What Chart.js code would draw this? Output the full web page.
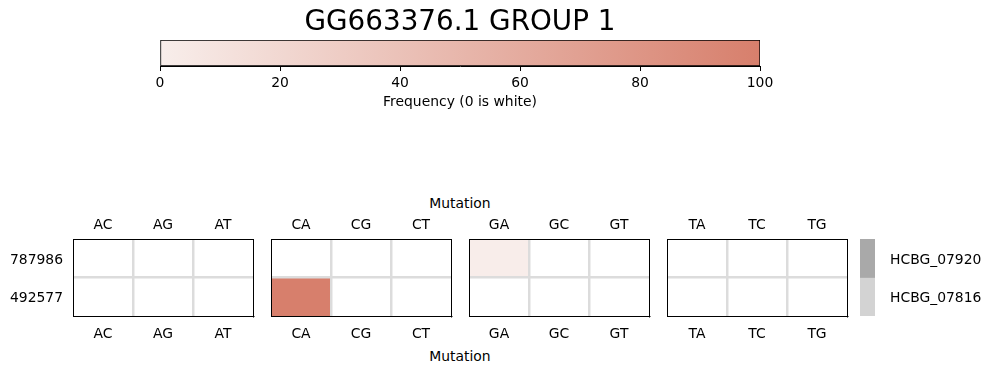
<!DOCTYPE html>
<html>
<head>
<meta charset="utf-8">
<script src="https://cdn.jsdelivr.net/npm/chart.js@4.4.1/dist/chart.umd.min.js"></script>
<style>
  html, body { margin: 0; padding: 0; background: #fff; }
  #wrap { position: relative; width: 991px; height: 373px; overflow: hidden; }
  #wrap canvas { position: absolute; }
  .axis-title {
    position: absolute; font: 13.9px 'DejaVu Sans', sans-serif; color: #000;
    transform: translate(-50%, -50%); white-space: nowrap;
  }
</style>
</head>
<body>
<div id="wrap">
  <canvas id="cbar" width="660" height="112" style="left:130px;top:0"></canvas>
  <div class="axis-title" style="left:460px;top:203px">Mutation</div>
  <div class="axis-title" style="left:460px;top:356px">Mutation</div>
</div>
<script>
// ── data ──
const TITLE = 'GG663376.1 GROUP 1';
const ROWS = ['787986', '492577'];
const MUTATION_GROUPS = [
  ['AC', 'AG', 'AT'],
  ['CA', 'CG', 'CT'],
  ['GA', 'GC', 'GT'],
  ['TA', 'TC', 'TG'],
];
// frequency per mutation, one array per row (12 mutations, group order)
const FREQ_787986 = [0, 0, 0, 0, 0, 0, 1, 0, 0, 0, 0, 0];
const FREQ_492577 = [0, 0, 0, 100, 0, 0, 0, 0, 0, 0, 0, 0];
const GENES = ['HCBG_07920', 'HCBG_07816'];
const CBAR_MIN = 0, CBAR_MAX = 100, CBAR_STEP = 20;

// ── style / layout ──
const C0 = [248, 238, 235], C1 = [215, 127, 108];
const GRID = '#dcdcdc';
const GENE_COLORS = ['#a9a9a9', '#d3d3d3'];
const PANEL_LEFTS = [73, 271, 469, 667];
const PANEL_W = 180, PANEL_H = 77, PANEL_TOP = 239;
const TOP_H = 50, BOT_H = 40;
const NONE = 'rgba(0,0,0,0)';

Chart.defaults.font.family = "'DejaVu Sans', sans-serif";
Chart.defaults.font.size = 13.9;
Chart.defaults.color = '#000';

function freqColor(v) {
  if (!v) return '#ffffff';
  const t = v / CBAR_MAX;
  return 'rgb(' + C0.map((c, i) => Math.round(c + (C1[i] - c) * t)).join(',') + ')';
}

const wrap = document.getElementById('wrap');

// hidden horizontal axis that only reserves space
function spacer(pos, h) {
  return {
    type: 'category', position: pos, display: true,
    ticks: { display: false }, grid: { display: false, drawTicks: false },
    border: { display: false },
    afterFit: s => { s.height = h; }
  };
}

/* ═══ COLORBAR + TITLE ═══ */
new Chart(document.getElementById('cbar'), {
  type: 'bar',
  data: {
    labels: ['freq'],
    datasets: [{
      data: [[CBAR_MIN, CBAR_MAX]],
      backgroundColor: ctx => {
        const area = ctx.chart.chartArea;
        if (!area) return freqColor(50);
        const g = ctx.chart.ctx.createLinearGradient(area.left, 0, area.right, 0);
        g.addColorStop(0, `rgb(${C0.join(',')})`);
        g.addColorStop(1, `rgb(${C1.join(',')})`);
        return g;
      },
      borderColor: '#000',
      borderWidth: 1,
      borderSkipped: false,
      barPercentage: 1,
      categoryPercentage: 1,
    }]
  },
  options: {
    indexAxis: 'y',
    responsive: false,
    animation: false,
    layout: { padding: { left: 30, right: 30 } },
    plugins: {
      legend: { display: false },
      tooltip: { enabled: false },
      title: { display: true, text: TITLE, font: { size: 27.8, weight: 'normal' }, padding: { top: 6.5, bottom: 0.14 }, color: '#000' }
    },
    scales: {
      x: {
        min: CBAR_MIN, max: CBAR_MAX,
        ticks: { stepSize: CBAR_STEP, padding: 4 },
        grid: { drawOnChartArea: false, drawTicks: true, tickLength: 5, color: '#000' },
        border: { color: '#000' },
        title: { display: true, text: 'Frequency (0 is white)', padding: { top: 0, bottom: 1 } },
        afterFit: s => { s.height = 46; }
      },
      y: { display: false }
    }
  }
});

/* ═══ HEATMAP PANELS ═══ */
function makePanel(gi) {
  const cols = MUTATION_GROUPS[gi];
  const first = gi === 0;
  const leftW = first ? PANEL_LEFTS[0] : 3;
  const cv = document.createElement('canvas');
  cv.width = leftW + PANEL_W + 3;
  cv.height = TOP_H + PANEL_H + BOT_H;
  cv.style.left = (PANEL_LEFTS[gi] - leftW) + 'px';
  cv.style.top = (PANEL_TOP - TOP_H) + 'px';
  wrap.appendChild(cv);

  const topVals = FREQ_787986.slice(gi * 3, gi * 3 + 3);
  const botVals = FREQ_492577.slice(gi * 3, gi * 3 + 3);
  const border = { color: '#000', width: 1, z: 2 };

  new Chart(cv, {
    type: 'bar',
    data: {
      labels: cols,
      datasets: [
        { label: ROWS[0], data: cols.map(() => [1, 2]), backgroundColor: topVals.map(freqColor) },
        { label: ROWS[1], data: cols.map(() => [0, 1]), backgroundColor: botVals.map(freqColor) },
      ]
    },
    options: {
      responsive: false,
      animation: false,
      layout: { padding: 0 },
      plugins: { legend: { display: false }, tooltip: { enabled: false } },
      datasets: { bar: { grouped: false, barPercentage: 1, categoryPercentage: 1, borderWidth: 0, inflateAmount: 0 } },
      scales: {
        x: {
          position: 'bottom', offset: true,
          grid: { offset: true, z: 1, lineWidth: 2.5, drawTicks: false,
                  color: c => (c.index === 1 || c.index === 2) ? GRID : NONE },
          border: border,
          ticks: { padding: 10 },
          afterFit: s => { s.height = BOT_H; }
        },
        x2: {
          type: 'category', position: 'top', offset: true,
          grid: { display: false, drawTicks: false },
          border: border,
          ticks: { padding: 5 },
          afterFit: s => { s.height = TOP_H; }
        },
        y: {
          type: 'linear', position: 'left', min: 0, max: 2,
          afterBuildTicks: s => { s.ticks = [{ value: 0.5 }, { value: 1.5 }]; },
          ticks: { display: first, padding: 10, labelOffset: 2, callback: v => v > 1 ? ROWS[0] : ROWS[1] },
          grid: { display: false, drawTicks: false },
          border: border,
          afterFit: s => { s.width = leftW; }
        },
        y2: {
          type: 'linear', position: 'right', min: 0, max: 2,
          ticks: { display: false, stepSize: 1 },
          grid: { z: 1, lineWidth: 2.5, drawTicks: false,
                  color: c => (c.tick && c.tick.value === 1) ? GRID : NONE },
          border: border,
          afterFit: s => { s.width = 3; }
        }
      }
    }
  });
}
MUTATION_GROUPS.forEach((g, i) => makePanel(i));

/* ═══ GENE BAR ═══ */
(function makeGeneBar() {
  const cv = document.createElement('canvas');
  cv.width = 131;
  cv.height = TOP_H + PANEL_H + BOT_H;
  cv.style.left = '860px';
  cv.style.top = (PANEL_TOP - TOP_H) + 'px';
  wrap.appendChild(cv);
  new Chart(cv, {
    type: 'bar',
    data: {
      labels: ['gene'],
      datasets: [
        { label: GENES[0], data: [[1, 2]], backgroundColor: GENE_COLORS[0] },
        { label: GENES[1], data: [[0, 1]], backgroundColor: GENE_COLORS[1] },
      ]
    },
    options: {
      responsive: false,
      animation: false,
      layout: { padding: 0 },
      plugins: { legend: { display: false }, tooltip: { enabled: false } },
      datasets: { bar: { grouped: false, barPercentage: 1, categoryPercentage: 1, borderWidth: 0 } },
      scales: {
        x: spacer('bottom', BOT_H),
        x2: spacer('top', TOP_H),
        y: {
          type: 'linear', position: 'right', min: 0, max: 2,
          afterBuildTicks: s => { s.ticks = [{ value: 0.5 }, { value: 1.5 }]; },
          ticks: { padding: 15, labelOffset: 2, callback: v => v > 1 ? GENES[0] : GENES[1] },
          grid: { display: false, drawTicks: false },
          border: { display: false },
          afterFit: s => { s.width = 116; }
        }
      }
    }
  });
})();
</script>
</body>
</html>
